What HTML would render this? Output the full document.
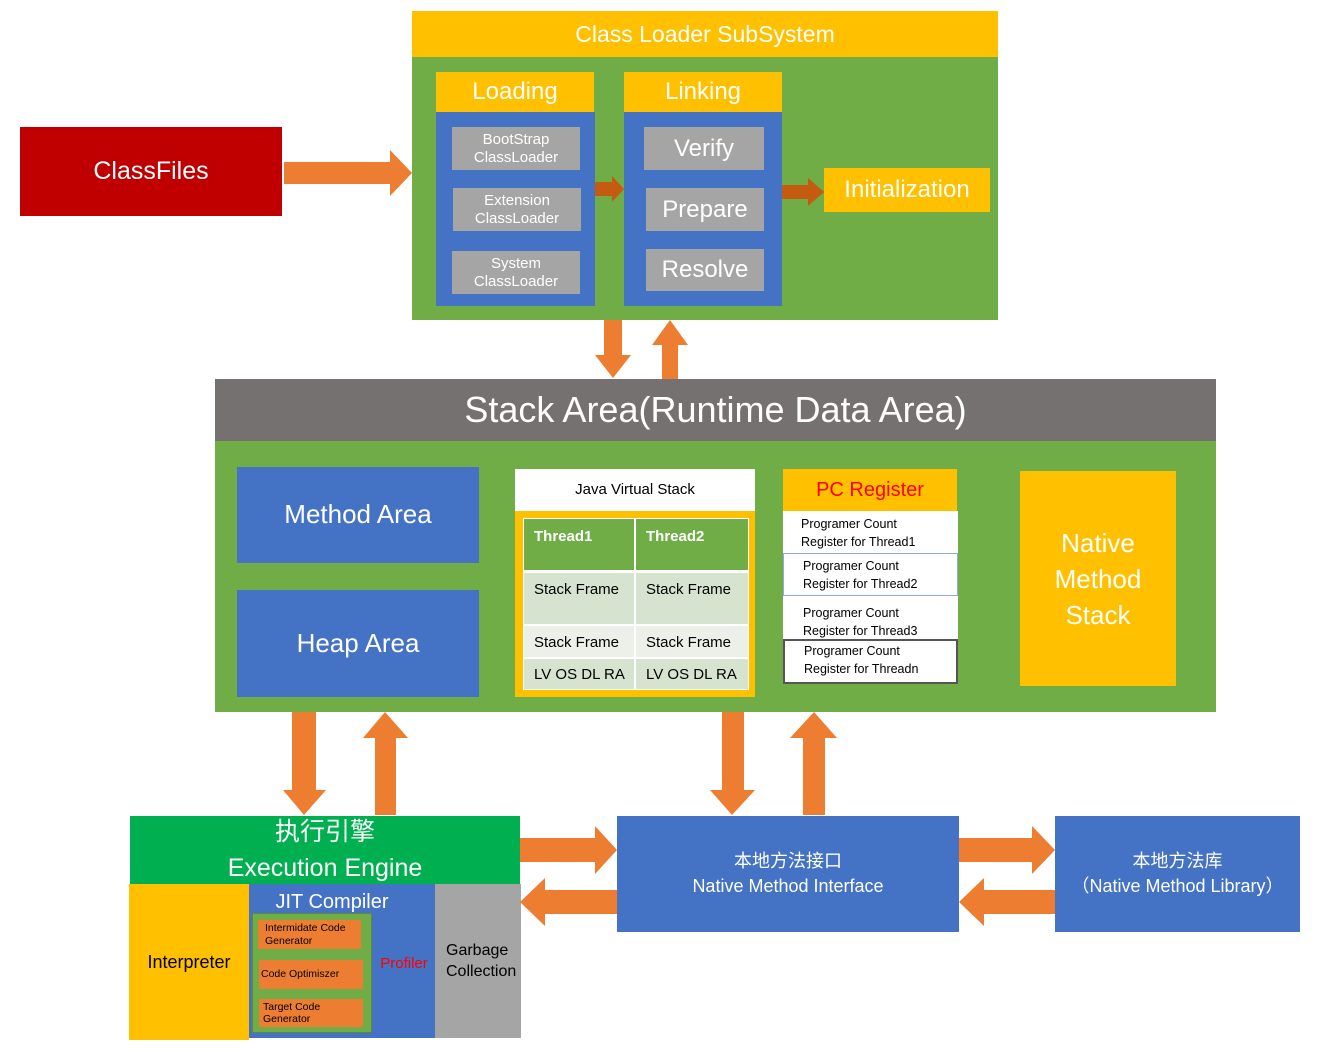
<!DOCTYPE html>
<html><head><meta charset="utf-8"><style>
body{margin:0;width:1322px;height:1052px;background:#fff;position:relative;overflow:hidden;font-family:"Liberation Sans","Noto Sans CJK SC",sans-serif}
.b{position:absolute;display:flex;align-items:center;justify-content:center;text-align:center;box-sizing:border-box;color:#fff;line-height:1.15}
.y{background:#FFC000}.g{background:#70AD47}.bl{background:#4472C4}.gr{background:#A5A5A5}.o{background:#ED7D31}
svg{position:absolute;left:0;top:0}
</style></head><body>
<div class="b" style="left:20px;top:127px;width:262px;height:89px;background:#C00000;font-size:25px">ClassFiles</div>
<div class="b y" style="left:412px;top:11px;width:586px;height:46px;font-size:23px">Class Loader SubSystem</div>
<div class="b g" style="left:412px;top:57px;width:586px;height:263px"></div>
<div class="b y" style="left:436px;top:72px;width:158px;height:40px;font-size:24px">Loading</div>
<div class="b bl" style="left:436px;top:112px;width:159px;height:194px"></div>
<div class="b gr" style="left:452px;top:127px;width:128px;height:43px;font-size:15px">BootStrap<br>ClassLoader</div>
<div class="b gr" style="left:453px;top:188px;width:128px;height:43px;font-size:15px">Extension<br>ClassLoader</div>
<div class="b gr" style="left:452px;top:251px;width:128px;height:43px;font-size:15px">System<br>ClassLoader</div>
<div class="b y" style="left:624px;top:72px;width:158px;height:40px;font-size:24px">Linking</div>
<div class="b bl" style="left:624px;top:112px;width:158px;height:194px"></div>
<div class="b gr" style="left:644px;top:127px;width:120px;height:43px;font-size:24px">Verify</div>
<div class="b gr" style="left:646px;top:188px;width:118px;height:43px;font-size:24px">Prepare</div>
<div class="b gr" style="left:646px;top:249px;width:118px;height:42px;font-size:24px">Resolve</div>
<div class="b y" style="left:824px;top:168px;width:166px;height:44px;font-size:24px">Initialization</div>

<div class="b" style="left:215px;top:379px;width:1001px;height:62px;background:#767171;font-size:36px">Stack Area(Runtime Data Area)</div>
<div class="b g" style="left:215px;top:441px;width:1001px;height:271px"></div>
<div class="b bl" style="left:237px;top:467px;width:242px;height:96px;font-size:26px">Method Area</div>
<div class="b bl" style="left:237px;top:590px;width:242px;height:107px;font-size:26px">Heap Area</div>
<div class="b" style="left:515px;top:469px;width:240px;height:42px;background:#fff;color:#000;font-size:15px">Java Virtual Stack</div>
<div class="b y" style="left:515px;top:511px;width:240px;height:186px"></div>
<div style="position:absolute;left:523px;top:518px;width:226px;height:172px;background:#fff;font-size:15px;color:#000">
 <div style="position:absolute;left:1px;top:1px;width:110px;height:51px;background:#70AD47;color:#fff;font-weight:bold;padding:9px 0 0 10px;box-sizing:border-box">Thread1</div>
 <div style="position:absolute;left:113px;top:1px;width:112px;height:51px;background:#70AD47;color:#fff;font-weight:bold;padding:9px 0 0 10px;box-sizing:border-box">Thread2</div>
 <div style="position:absolute;left:1px;top:55px;width:110px;height:51px;background:#D5E3CF;padding:8px 0 0 10px;box-sizing:border-box">Stack Frame</div>
 <div style="position:absolute;left:113px;top:55px;width:112px;height:51px;background:#D5E3CF;padding:8px 0 0 10px;box-sizing:border-box">Stack Frame</div>
 <div style="position:absolute;left:1px;top:108px;width:110px;height:31px;background:#EBF1E8;padding:8px 0 0 10px;box-sizing:border-box">Stack Frame</div>
 <div style="position:absolute;left:113px;top:108px;width:112px;height:31px;background:#EBF1E8;padding:8px 0 0 10px;box-sizing:border-box">Stack Frame</div>
 <div style="position:absolute;left:1px;top:141px;width:110px;height:30px;background:#D5E3CF;padding:7px 0 0 10px;box-sizing:border-box">LV OS DL RA</div>
 <div style="position:absolute;left:113px;top:141px;width:112px;height:30px;background:#D5E3CF;padding:7px 0 0 10px;box-sizing:border-box">LV OS DL RA</div>
</div>
<div class="b y" style="left:783px;top:469px;width:174px;height:42px;color:#f00;font-size:20px">PC Register</div>
<div style="position:absolute;left:783px;top:511px;width:175px;height:173px;background:#fff;font-size:12.5px;color:#000;line-height:18px">
 <div style="position:absolute;left:18px;top:4px">Programer Count<br>Register for Thread1</div>
 <div style="position:absolute;left:0;top:42px;width:175px;height:43px;border:1px solid #8FAADC;box-sizing:border-box;padding:3px 0 0 19px">Programer Count<br>Register for Thread2</div>
 <div style="position:absolute;left:20px;top:93px">Programer Count<br>Register for Thread3</div>
 <div style="position:absolute;left:0;top:128px;width:175px;height:45px;border:2px solid #555;box-sizing:border-box;padding:1px 0 0 19px">Programer Count<br>Register for Threadn</div>
</div>
<div class="b y" style="left:1020px;top:471px;width:156px;height:215px;font-size:26px;line-height:36px">Native<br>Method<br>Stack</div>

<div class="b" style="left:130px;top:816px;width:390px;height:68px;background:#00B050;font-size:25px;line-height:36px">执行引擎<br>Execution Engine</div>
<div class="b y" style="left:129px;top:884px;width:120px;height:156px;color:#000;font-size:18px">Interpreter</div>
<div class="b bl" style="left:249px;top:884px;width:186px;height:154px"></div>
<div class="b" style="left:249px;top:888px;width:166px;height:28px;font-size:20px">JIT Compiler</div>
<div class="b g" style="left:252px;top:913px;width:120px;height:120px;border:1px solid #5a8a3a"></div>
<div class="b o" style="left:258px;top:920px;width:103px;height:29px;color:#000;font-size:10.5px;justify-content:flex-start;text-align:left;padding-left:7px">Intermidate Code<br>Generator</div>
<div class="b o" style="left:259px;top:960px;width:104px;height:29px;color:#000;font-size:10.5px;justify-content:flex-start;padding-left:2px">Code Optimiszer</div>
<div class="b o" style="left:259px;top:999px;width:104px;height:28px;color:#000;font-size:10.5px;justify-content:flex-start;text-align:left;padding-left:4px">Target Code<br>Generator</div>
<div class="b" style="left:374px;top:952px;width:60px;height:24px;color:#f00;font-size:15px">Profiler</div>
<div class="b gr" style="left:435px;top:884px;width:86px;height:154px;color:#000;font-size:16px;justify-content:flex-start;text-align:left;padding-left:11px;line-height:21px">Garbage<br>Collection</div>

<div class="b bl" style="left:617px;top:816px;width:342px;height:116px;font-size:18px;line-height:25px">本地方法接口<br>Native Method Interface</div>
<div class="b bl" style="left:1055px;top:816px;width:245px;height:116px;font-size:18px;line-height:25px">本地方法库<br>（Native Method Library）</div>

<svg width="1322" height="1052">
<g fill="#ED7D31">
<polygon points="284,162 390,162 390,150 412,173 390,196 390,184 284,184"/>
<polygon points="595,182 612,182 612,176 624,189 612,202 612,196 595,196" fill="#C55A11"/>
<polygon points="782,185 808,185 808,178 824,192 808,206 808,199 782,199" fill="#C55A11"/>
<polygon points="604,320 622,320 622,355 631,355 613,378 595,355 604,355"/>
<polygon points="662,379 678,379 678,345 688,345 670,320 652,345 662,345"/>
<polygon points="292,712 316,712 316,790 326,790 304,815 283,790 292,790"/>
<polygon points="375,815 396,815 396,738 408,738 385,712 363,738 375,738"/>
<polygon points="722,712 744,712 744,790 755,790 732,815 710,790 722,790"/>
<polygon points="803,815 825,815 825,738 837,738 814,712 790,738 803,738"/>
<polygon points="520,838 595,838 595,826 617,850 595,874 595,862 520,862"/>
<polygon points="617,890 545,890 545,878 520,902 545,926 545,914 617,914"/>
<polygon points="959,838 1032,838 1032,826 1055,850 1032,874 1032,862 959,862"/>
<polygon points="1055,890 984,890 984,878 959,902 984,926 984,914 1055,914"/>
</g>
</svg>
</body></html>
